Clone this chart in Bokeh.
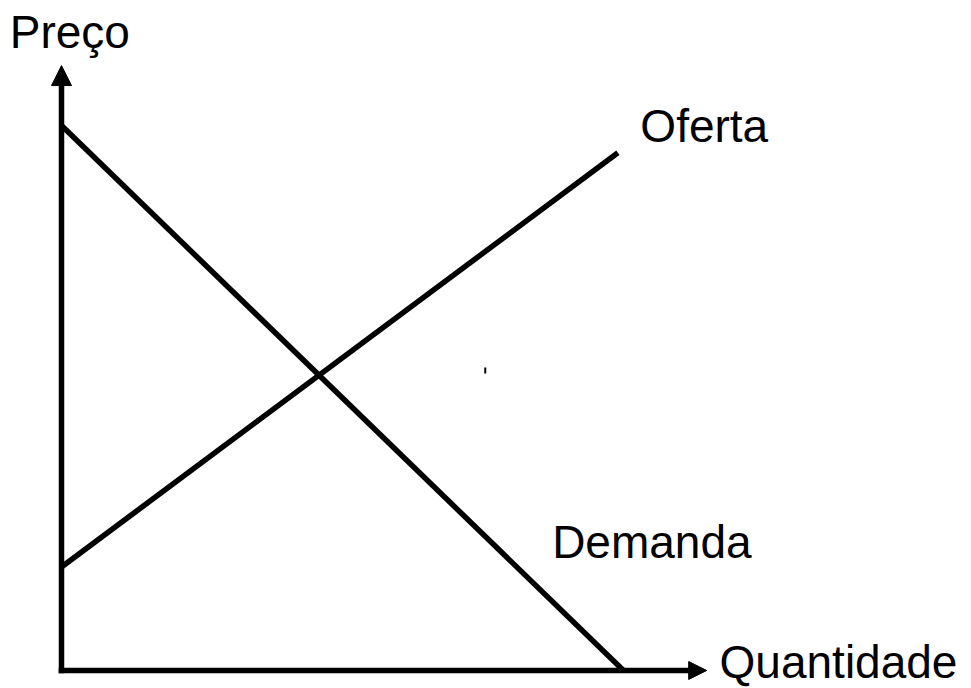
from bokeh.plotting import figure
from bokeh.models import Range1d, Arrow, NormalHead, LabelSet, ColumnDataSource
from bokeh.core.properties import value
from bokeh.embed import file_html
from bokeh.resources import INLINE

# Data (abstract units: quantity 0-100, price 0-100)
demand_q = [0, 100]
demand_p = [100, 0]
supply_q = [0, 99]
supply_p = [19, 95]

axis_q_max = 114.8
axis_p_max = 111.0

label_text = ["Preço", "Oferta", "Demanda", "Quantidade"]
label_q = [-9.2, 103.0, 87.3, 117.1]
label_p = [114.3, 96.9, 20.7, -1.4]

mark_q = [75.4]
mark_p0 = [54.5]
mark_p1 = [55.6]

W, H = 971, 688
p = figure(width=W, height=H, output_backend="svg", toolbar_location=None,
           x_range=Range1d(-10.854, 161.92), y_range=Range1d(-3.303, 122.94),
           min_border=0, background_fill_color="white", border_fill_color="white")
p.axis.visible = False
p.grid.visible = False
p.outline_line_color = None

p.line(demand_q, demand_p, line_color="black", line_width=5.5)
p.line(supply_q, supply_p, line_color="black", line_width=5.5)
p.segment(x0=mark_q, y0=mark_p0, x1=mark_q, y1=mark_p1, line_color="black", line_width=2)

p.add_layout(Arrow(end=NormalHead(size=20, fill_color="black", line_color="black", line_width=1),
                   x_start=0, y_start=-0.5, x_end=0, y_end=axis_p_max,
                   line_color="black", line_width=5.5))
p.add_layout(Arrow(end=NormalHead(size=18, fill_color="black", line_color="black", line_width=1),
                   x_start=-0.5, y_start=0, x_end=axis_q_max, y_end=0,
                   line_color="black", line_width=5.5))

src = ColumnDataSource(dict(x=label_q, y=label_p, t=label_text))
p.add_layout(LabelSet(x="x", y="y", text="t", source=src, text_font=value("Liberation Sans"),
                      text_font_size="46px", text_color="black",
                      text_baseline="alphabetic", text_align="left"))

open("out.html", "w").write(file_html(p, INLINE))
